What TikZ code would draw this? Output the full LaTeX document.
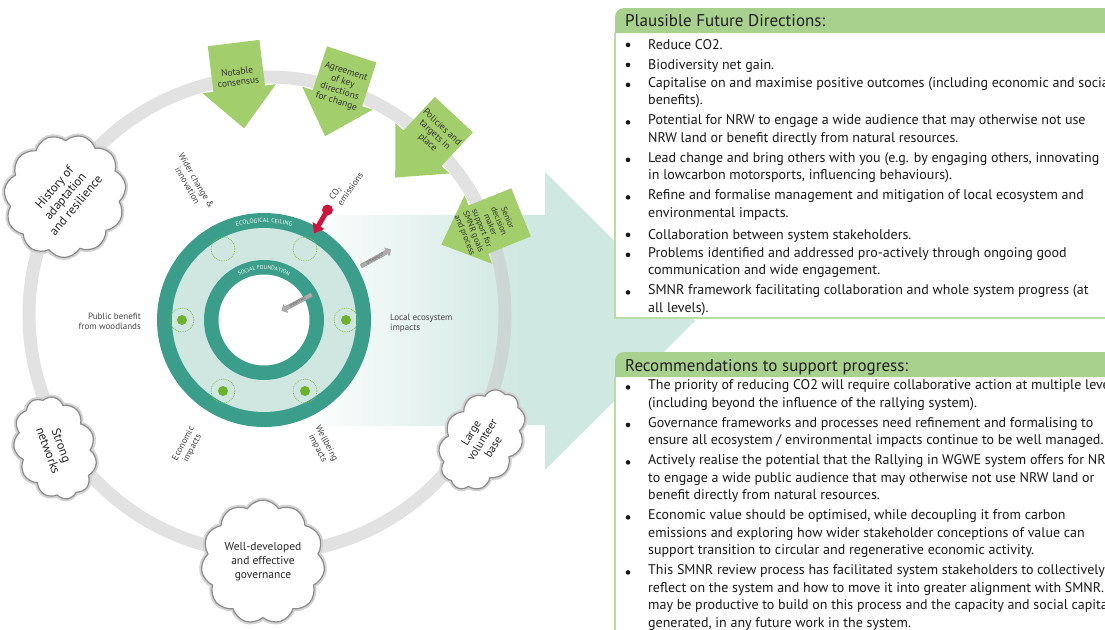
\documentclass[tikz,border=0pt]{standalone}
\usepackage{fontspec}
\setmainfont{PT Sans}
\usetikzlibrary{shapes.symbols,shapes.arrows,decorations.text,arrows.meta,calc}
\definecolor{ringgray}{HTML}{C6C6C6}
\definecolor{tealdark}{HTML}{3A9E8A}
\definecolor{teallight}{HTML}{CFE7E0}
\definecolor{arrowteal}{HTML}{D0E8E2}
\definecolor{callgreen}{HTML}{A2CF6C}
\definecolor{headgreen}{HTML}{A9D18E}
\definecolor{boxgreen}{HTML}{B9DCA0}
\definecolor{dotgreen}{HTML}{86BF4E}
\definecolor{dotfill}{HTML}{6DB32A}
\definecolor{co2red}{HTML}{D0143C}
\definecolor{labgray}{HTML}{444444}
\definecolor{cloudgray}{HTML}{8C8C8C}
\tikzset{
  lbl/.style={font=\fontsize{9}{10}\selectfont, text=labgray, inner sep=0, align=center},
  calltext/.style={font=\fontsize{9.5}{10.5}\selectfont, text=black!80, inner sep=0, align=center, transform shape},
  cloudbox/.style={cloud, cloud puffs=11, cloud puff arc=115, draw=cloudgray, line width=1.2,
     fill=white, inner sep=1, align=center, text=black!85,
     preaction={draw=gray!35, line width=5}},
  btext/.style={font=\fontsize{14}{17.5}\selectfont, text=black!90, inner sep=0, align=left,
     anchor=north west, yshift=12.25pt, execute at begin node=\strut},
  bdot/.style={circle, fill=black!90, inner sep=0, minimum size=4.6, yshift=4.6pt},
  headtext/.style={font=\fontsize{17}{19}\selectfont, text=black!88, inner sep=0, anchor=base west},
  grayarrow/.style={single arrow, fill=gray!65, draw=gray!80, line width=0.3, inner sep=0.6,
     single arrow head extend=2.5, minimum height=34, font=\fontsize{3.5}{4}\selectfont, text=black!70}
}
\begin{document}
\begin{tikzpicture}[x=1pt,y=1pt]
\useasboundingbox (0,0) rectangle (1105,-629);
\clip (0,0) rectangle (1105,-629);
\fill[white] (0,0) rectangle (1105,-629);

% big background arrow
\shade[left color=white, right color=arrowteal] (300,-215) rectangle (520,-425);
\fill[arrowteal] (519,-215) -- (545,-215) -- (545,-172) -- (695,-321) -- (545,-470) -- (545,-425) -- (519,-425) -- cycle;

% gray outer ring
\draw[ringgray, line width=13, opacity=0.5] (267,-315) circle (238);

% doughnut
\fill[tealdark] (264,-320) circle (107);
\fill[teallight] (264,-320) circle (92);
\fill[tealdark] (264,-320) circle (60);
\fill[white] (264,-320) circle (45.5);

\path[decorate, decoration={text along path, text align=center, text color=white,
   text={|\fontsize{6}{6}\selectfont|ECOLOGICAL CEILING}}]
   (264,-320) ++(125:97.5) arc (125:55:97.5);
\path[decorate, decoration={text along path, text align=center, text color=white,
   text={|\fontsize{5.5}{6}\selectfont|SOCIAL FOUNDATION}}]
   (264,-320) ++(135:50.5) arc (135:45:50.5);

\foreach \a in {0,60,120,180,240,300}
  \draw[dotgreen, densely dotted, line width=0.8] (264,-320) ++(\a:82) circle (12);
\foreach \a in {0,180,240,300}
  \fill[dotfill] (264,-320) ++(\a:82) circle (5);

% CO2 arrow
\coordinate (co2tail) at ($(264,-320)+(60:127)$);
\coordinate (co2tip) at ($(264,-320)+(60:100)$);
\draw[co2red, line width=5, -{Triangle[width=13,length=9]}] (co2tail) -- (co2tip);
\fill[co2red] (co2tail) circle (5.5);

% overshoot / shortfall
\node[grayarrow, rotate=29] (over) at ($(264,-320)+(29:127)$) {OVERSHOOT};
\node[grayarrow, rotate=28, shape border rotate=180] (short) at ($(264,-320)+(28:38)$) {SHORTFALL};

% labels
\node[lbl, rotate=-60] (wider) at (192,-183) {Wider change \&\\innovation};
\node[lbl, rotate=55, align=left] (co2lab) at (346,-186) {CO\textsubscript{2}\\emissions};
\node[lbl, align=right, anchor=east] (pub) at (141,-321) {Public benefit\\from woodlands};
\node[lbl, align=left, anchor=west] (local) at (390,-323) {Local ecosystem\\impacts};
\node[lbl, rotate=62] (econ) at (188,-446) {Economic\\impacts};
\node[lbl, rotate=-62] (well) at (322,-446) {Wellbeing\\impacts};

% green callout arrows
\begin{scope}[shift={(267,-315)}, rotate=7]
\fill[callgreen] (0,188) -- (-37,228) -- (-26,228) -- (-26,274) -- (26,274) -- (26,228) -- (37,228) -- cycle;
\node[calltext] (c1) at (0,240) {Notable\\consensus};
\end{scope}
\begin{scope}[shift={(267,-315)}, rotate=-18]
\fill[callgreen] (0,188) -- (-37,228) -- (-26,228) -- (-26,274) -- (26,274) -- (26,228) -- (37,228) -- cycle;
\node[calltext] (c2) at (0,240) {Agreement\\of key\\directions\\for change};
\end{scope}
\begin{scope}[shift={(267,-315)}, rotate=-43]
\fill[callgreen] (0,188) -- (-37,228) -- (-26,228) -- (-26,274) -- (26,274) -- (26,228) -- (37,228) -- cycle;
\node[calltext] (c3) at (0,246) {Policies and\\targets in\\place};
\end{scope}
\begin{scope}[shift={(267,-315)}, rotate=-68]
\fill[callgreen] (0,188) -- (-37,228) -- (-26,228) -- (-26,274) -- (26,274) -- (26,228) -- (37,228) -- cycle;
\node[calltext, font=\fontsize{8.5}{9.2}\selectfont] (c4) at (0,236) {Senior\\decision\\maker\\support for\\SMNR goals\\and process};
\end{scope}

% clouds
\node[cloudbox, rotate=50, minimum width=125, minimum height=66, font=\fontsize{12.5}{14}\selectfont] (hist) at (65,-196) {History of\\adaptation\\and resilience};
\node[cloudbox, rotate=-70, minimum width=105, minimum height=58, font=\fontsize{12.5}{14}\selectfont] (strong) at (55,-448) {Strong\\networks};
\node[cloudbox, minimum width=118, minimum height=80, font=\fontsize{11.5}{14}\selectfont] (gov) at (263,-562) {Well-developed\\and effective\\governance};
\node[cloudbox, rotate=58, minimum width=108, minimum height=72, font=\fontsize{11.5}{13}\selectfont] (vol) at (482,-440) {Large\\volunteer\\base};

% box 1
\fill[white] (615,-33) rectangle (1110,-318);
\draw[boxgreen, line width=1.5] (615,-33) -- (615,-318) -- (1110,-318);
\fill[headgreen] (615,-33) -- (615,-17) arc (180:90:9) -- (1110,-8) -- (1110,-33) -- cycle;
\node[headtext] (h1) at (625,-27) {Plausible Future Directions:};

\node[bdot] (d11) at (628,-49.5) {};
\node[btext] (t11) at (648,-49.5) {Reduce CO2.};
\node[bdot] (d12) at (628,-69.5) {};
\node[btext] (t12) at (648,-69.5) {Biodiversity net gain.};
\node[bdot] (d13) at (628,-89.5) {};
\node[btext] (t13) at (648,-89.5) {Capitalise on and maximise positive outcomes (including economic and social\\benefits).};
\node[bdot] (d14) at (628,-127) {};
\node[btext] (t14) at (648,-127) {Potential for NRW to engage a wide audience that may otherwise not use\\NRW land or benefit directly from natural resources.};
\node[bdot] (d15) at (628,-164.5) {};
\node[btext] (t15) at (648,-164.5) {Lead change and bring others with you (e.g. by engaging others, innovating\\in lowcarbon motorsports, influencing behaviours).};
\node[bdot] (d16) at (628,-202) {};
\node[btext] (t16) at (648,-202) {Refine and formalise management and mitigation of local ecosystem and\\environmental impacts.};
\node[bdot] (d17) at (628,-239.5) {};
\node[btext] (t17) at (648,-239.5) {Collaboration between system stakeholders.};
\node[bdot] (d18) at (628,-259.5) {};
\node[btext] (t18) at (648,-259.5) {Problems identified and addressed pro-actively through ongoing good\\communication and wide engagement.};
\node[bdot] (d19) at (628,-297) {};
\node[btext] (t19) at (648,-297) {SMNR framework facilitating collaboration and whole system progress (at\\all levels).};

% box 2
\fill[white] (615,-377) rectangle (1110,-640);
\draw[boxgreen, line width=1.5] (615,-377) -- (615,-640);
\fill[headgreen] (615,-377) -- (615,-361) arc (180:90:9) -- (1110,-352) -- (1110,-377) -- cycle;
\node[headtext] (h2) at (625,-371) {Recommendations to support progress:};

\node[bdot] (d21) at (628,-392) {};
\node[btext] (t21) at (648,-392) {The priority of reducing CO2 will require collaborative action at multiple levels\\(including beyond the influence of the rallying system).};
\node[bdot] (d22) at (628,-429.5) {};
\node[btext] (t22) at (648,-429.5) {Governance frameworks and processes need refinement and formalising to\\ensure all ecosystem / environmental impacts continue to be well managed.};
\node[bdot] (d23) at (628,-467) {};
\node[btext] (t23) at (648,-467) {Actively realise the potential that the Rallying in WGWE system offers for NRW\\to engage a wide public audience that may otherwise not use NRW land or\\benefit directly from natural resources.};
\node[bdot] (d24) at (628,-522) {};
\node[btext] (t24) at (648,-522) {Economic value should be optimised, while decoupling it from carbon\\emissions and exploring how wider stakeholder conceptions of value can\\support transition to circular and regenerative economic activity.};
\node[bdot] (d25) at (628,-577) {};
\node[btext] (t25) at (648,-577) {This SMNR review process has facilitated system stakeholders to collectively\\reflect on the system and how to move it into greater alignment with SMNR. It\\may be productive to build on this process and the capacity and social capital\\generated, in any future work in the system.};
\end{tikzpicture}
\end{document}
